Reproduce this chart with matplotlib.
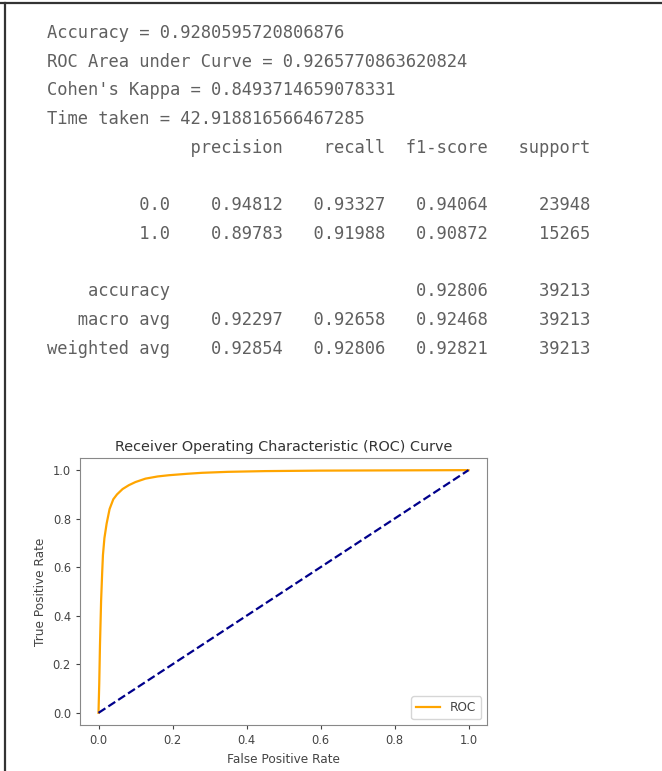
import matplotlib
matplotlib.use("Agg")
import matplotlib.pyplot as plt
from matplotlib.lines import Line2D

# ── Data ─────────────────────────────────────────────────────────────────────
accuracy = "0.9280595720806876"
roc_auc = "0.9265770863620824"
kappa = "0.8493714659078331"
time_taken = "42.918816566467285"

classes = ["0.0", "1.0"]
precision = [0.94812, 0.89783]
recall = [0.93327, 0.91988]
f1 = [0.94064, 0.90872]
support = [23948, 15265]

acc_f1 = 0.92806
macro = [0.92297, 0.92658, 0.92468]
weighted = [0.92854, 0.92806, 0.92821]
total_support = 39213

fpr = [0.0, 0.002, 0.004, 0.007, 0.010, 0.012, 0.016, 0.022, 0.030, 0.040,
       0.050, 0.065, 0.082, 0.100, 0.127, 0.160, 0.190, 0.240, 0.280, 0.350,
       0.450, 0.600, 0.800, 1.0]
tpr = [0.0, 0.12, 0.28, 0.46, 0.58, 0.65, 0.72, 0.78, 0.84, 0.88,
       0.90, 0.922, 0.938, 0.951, 0.965, 0.974, 0.979, 0.985, 0.989, 0.993,
       0.996, 0.998, 0.999, 1.0]
diag = [0.0, 1.0]

# ── Text block (console output) ──────────────────────────────────────────────
w = 12
lines = [
    f"Accuracy = {accuracy}",
    f"ROC Area under Curve = {roc_auc}",
    f"Cohen's Kappa = {kappa}",
    f"Time taken = {time_taken}",
    " " * w + " " + "".join(f" {h:>9}" for h in
                            ["precision", "recall", "f1-score", "support"]),
    "",
]
for c, p, r, f, s in zip(classes, precision, recall, f1, support):
    lines.append(f"{c:>{w}s} " + f" {p:>9.5f} {r:>9.5f} {f:>9.5f}" + f" {s:>9}")
lines.append("")
lines.append(f"{'accuracy':>{w}s} " + " " * 20 + f" {acc_f1:>9.5f}"
             + f" {total_support:>9}")
lines.append(f"{'macro avg':>{w}s} " + "".join(f" {v:>9.5f}" for v in macro)
             + f" {total_support:>9}")
lines.append(f"{'weighted avg':>{w}s} "
             + "".join(f" {v:>9.5f}" for v in weighted)
             + f" {total_support:>9}")

W, H = 662, 771
fig = plt.figure(figsize=(W / 100, H / 100), dpi=100)

for i, line in enumerate(lines):
    y = 33 + i * 28.7
    fig.text(47 / W, 1 - y / H, line, family="DejaVu Sans Mono",
             fontsize=12.3, color="#606060", va="center", ha="left")

# screenshot border (top and left)
fig.add_artist(Line2D([0, 1], [1 - 3 / H, 1 - 3 / H], color="#333333", lw=1.6))
fig.add_artist(Line2D([5 / W, 5 / W], [0, 1 - 3 / H], color="#333333", lw=1.6))

# ── ROC plot ─────────────────────────────────────────────────────────────────
ax = fig.add_axes([80 / W, 46 / H, 407 / W, 267 / H])
ax.plot(fpr, tpr, color="orange", lw=1.6, label="ROC")
ax.plot(diag, diag, color="darkblue", ls="--", lw=1.6)
ax.set_xlim(-0.05, 1.05)
ax.set_ylim(-0.05, 1.05)
ax.set_xticks([0, 0.2, 0.4, 0.6, 0.8, 1.0])
ax.set_yticks([0, 0.2, 0.4, 0.6, 0.8, 1.0])
ax.tick_params(labelsize=8.3, colors="#444444", length=3)
for s in ax.spines.values():
    s.set_color("#888888")
ax.set_title("Receiver Operating Characteristic (ROC) Curve", fontsize=10.4,
             color="#333333", pad=5)
ax.set_xlabel("False Positive Rate", fontsize=8.7, color="#444444")
ax.set_ylabel("True Positive Rate", fontsize=8.7, color="#444444")
ax.legend(loc="lower right", fontsize=8.7, labelcolor="#444444")

fig.savefig("out.png", dpi=100)
